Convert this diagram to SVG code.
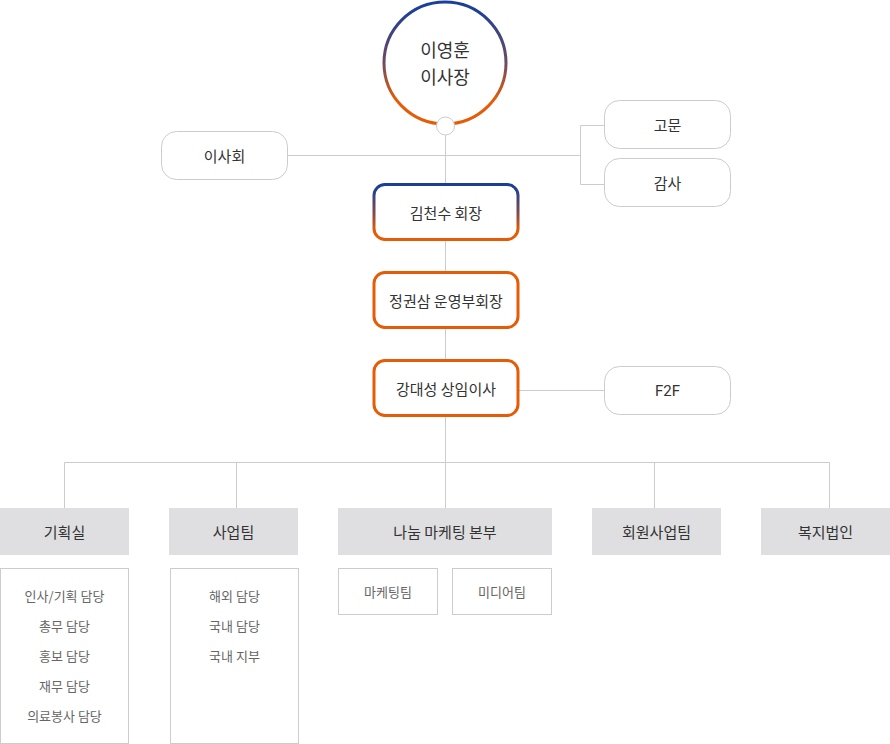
<svg xmlns="http://www.w3.org/2000/svg" width="890" height="744" viewBox="0 0 890 744">
<defs>
<linearGradient id="gc" x1="0" y1="0" x2="0" y2="1">
<stop offset="0.05" stop-color="#1a3f98"/>
<stop offset="0.5" stop-color="#6e4a62"/>
<stop offset="0.8" stop-color="#e65c06"/>
</linearGradient>
<linearGradient id="gb" x1="0" y1="0" x2="0" y2="1">
<stop offset="0.05" stop-color="#1a3f98"/>
<stop offset="0.5" stop-color="#7a4a50"/>
<stop offset="0.85" stop-color="#e65c06"/>
</linearGradient>
<style>
text{font-family:"Noto Sans CJK KR","Noto Sans",sans-serif;text-anchor:middle;dominant-baseline:central}
.ln{stroke:#cccccc;stroke-width:1;fill:none}
.wb{fill:#fff;stroke:#cccccc;stroke-width:1}
.ob{fill:#fff;stroke:#e65c06;stroke-width:3}
.gr{fill:#dfdfe1}
.t1{font-size:15px;fill:#333}
.t2{font-size:13px;fill:#666}
</style>
</defs>
<g id="connectors">
<path class="ln" d="M445.5 135V462"/>
<path class="ln" d="M288 155.5H580.5"/>
<path class="ln" d="M580.5 125.5V184.5M580.5 125.5H604M580.5 184.5H604"/>
<path class="ln" d="M518 390.5H604"/>
<path class="ln" d="M64.5 508V462.5H829.5V508"/>
<path class="ln" d="M236.5 462.5V508M445.5 462.5V508M654.5 462.5V508"/>
</g>
<g id="chairman-lee">
<circle cx="445" cy="63" r="61" fill="#fff" stroke="url(#gc)" stroke-width="3"/>
<text x="445" y="49" style="font-size:18px;fill:#333">이영훈</text>
<text x="445" y="76" style="font-size:18px;fill:#333">이사장</text>
<circle cx="445.5" cy="126" r="9" fill="#fff" stroke="#cccccc" stroke-width="1"/>
</g>
<g id="board">
<rect class="wb" x="161.5" y="131.5" width="126" height="48" rx="15"/>
<text class="t1" x="224.5" y="155.5">이사회</text>
</g>
<g id="advisor">
<rect class="wb" x="604.5" y="100.5" width="126" height="48" rx="15"/>
<text class="t1" x="667.5" y="124.5">고문</text>
</g>
<g id="auditor">
<rect class="wb" x="604.5" y="158.5" width="126" height="48" rx="15"/>
<text class="t1" x="667.5" y="182.5">감사</text>
</g>
<g id="president">
<rect x="374" y="184.5" width="144" height="55" rx="11" fill="#fff" stroke="url(#gb)" stroke-width="3"/>
<text class="t1" x="446" y="212">김천수 회장</text>
</g>
<g id="vice-president">
<rect class="ob" x="374" y="272.5" width="144" height="55" rx="11"/>
<text class="t1" x="446" y="300">정권삼 운영부회장</text>
</g>
<g id="director">
<rect class="ob" x="374" y="360.5" width="144" height="55" rx="11"/>
<text class="t1" x="446" y="388">강대성 상임이사</text>
</g>
<g id="f2f">
<rect class="wb" x="604.5" y="366.5" width="126" height="48" rx="15"/>
<text class="t1" x="667.5" y="390.5" style="font-family:Roboto,'Noto Sans',sans-serif">F2F</text>
</g>
<g id="planning">
<rect class="gr" x="0" y="508" width="129" height="47"/>
<text class="t1" x="64.5" y="531.5">기획실</text>
<rect class="wb" x="0.5" y="568.5" width="128" height="175"/>
<text class="t2" x="64.5" y="595">인사/기획 담당</text>
<text class="t2" x="64.5" y="625">총무 담당</text>
<text class="t2" x="64.5" y="655">홍보 담당</text>
<text class="t2" x="64.5" y="685">재무 담당</text>
<text class="t2" x="64.5" y="715">의료봉사 담당</text>
</g>
<g id="business">
<rect class="gr" x="169" y="508" width="129" height="47"/>
<text class="t1" x="233.5" y="531.5">사업팀</text>
<rect class="wb" x="170.5" y="568.5" width="128" height="175"/>
<text class="t2" x="234.5" y="595">해외 담당</text>
<text class="t2" x="234.5" y="625">국내 담당</text>
<text class="t2" x="234.5" y="655">국내 지부</text>
</g>
<g id="marketing">
<rect class="gr" x="338" y="508" width="214" height="47"/>
<text class="t1" x="445" y="531.5">나눔 마케팅 본부</text>
<rect class="wb" x="338.5" y="568.5" width="99" height="46"/>
<text class="t2" x="388" y="591.5">마케팅팀</text>
<rect class="wb" x="452.5" y="568.5" width="99" height="46"/>
<text class="t2" x="502" y="591.5">미디어팀</text>
</g>
<g id="membership">
<rect class="gr" x="592" y="508" width="129" height="47"/>
<text class="t1" x="656.5" y="531.5">회원사업팀</text>
</g>
<g id="welfare">
<rect class="gr" x="761" y="508" width="129" height="47"/>
<text class="t1" x="825.5" y="531.5">복지법인</text>
</g>
</svg>
